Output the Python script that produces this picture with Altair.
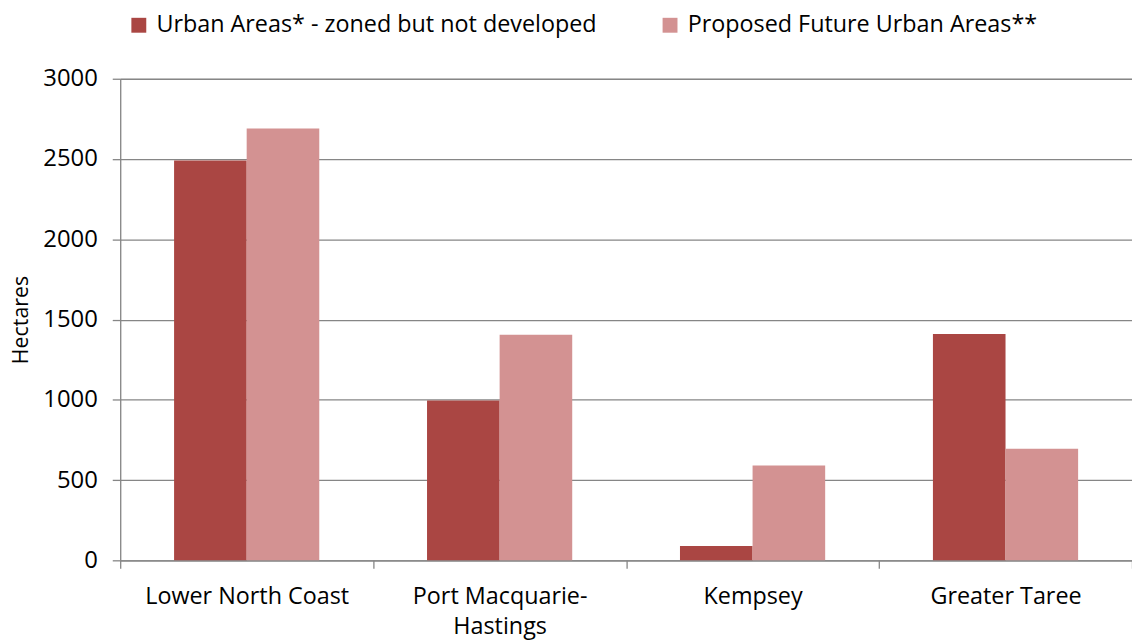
import altair as alt
import pandas as pd

categories = ["Lower North Coast", "Port Macquarie-Hastings", "Kempsey", "Greater Taree"]
series = ["Urban Areas* - zoned but not developed", "Proposed Future Urban Areas**"]
zoned = [2490, 995, 90, 1410]
proposed = [2690, 1405, 590, 695]
colors = ["#AA4643", "#D39292"]
y_ticks = [0, 500, 1000, 1500, 2000, 2500, 3000]

rows = []
for c, a, b in zip(categories, zoned, proposed):
    rows.append({"region": c, "series": series[0], "value": a})
    rows.append({"region": c, "series": series[1], "value": b})
df = pd.DataFrame(rows)

W, H = 1019, 485
p_inner = 0.426
step = W / 4
gap = p_inner * step
bw = step - gap
FONT = "Open Sans"
FS = 23.5

chart = alt.Chart(df).mark_bar().encode(
    x=alt.X("region:N", sort=categories,
            scale=alt.Scale(paddingInner=p_inner, paddingOuter=p_inner / 2),
            axis=alt.Axis(title=None, labelAngle=0, labelFontSize=FS, labelFont=FONT,
                          labelColor="#000000", domainColor="#868686", domainWidth=1.3,
                          tickColor="#868686", tickWidth=1.3, tickSize=8,
                          bandPosition=1 + gap / bw, tickExtra=True,
                          tickOffset=-gap / 2, labelOffset=gap / 2,
                          labelPadding=16, labelLineHeight=31, labelBaseline="top",
                          labelLimit=400,
                          labelExpr="indexof(datum.label, '-') > 0 ? [slice(datum.label, 0, indexof(datum.label, '-') + 1), slice(datum.label, indexof(datum.label, '-') + 1)] : datum.label")),
    xOffset=alt.XOffset("series:N", sort=series, scale=alt.Scale(paddingInner=0, paddingOuter=0)),
    y=alt.Y("value:Q", scale=alt.Scale(domain=[0, 3000], nice=False),
            axis=alt.Axis(title="Hectares", values=y_ticks, format="d",
                          titleFontSize=21.5, titleFont=FONT,
                          titleFontWeight="normal", titleColor="#000000", titlePadding=10,
                          labelFontSize=24, labelFont=FONT, labelColor="#000000",
                          labelPadding=15, tickSize=8, tickColor="#868686", tickWidth=1.3,
                          domainColor="#868686", domainWidth=1.3,
                          grid=True, gridColor="#868686", gridWidth=1.3)),
    color=alt.Color("series:N", sort=series,
                    scale=alt.Scale(domain=series, range=colors),
                    legend=alt.Legend(title=None, orient="none", direction="horizontal",
                                      columns=2, legendX=7, legendY=-66,
                                      symbolType="square", symbolSize=225,
                                      symbolStrokeWidth=0, labelFontSize=FS, labelFont=FONT,
                                      labelColor="#000000", columnPadding=62,
                                      labelOffset=6, labelLimit=700)),
).properties(
    width=W, height=H,
    autosize=alt.AutoSizeParams(type="none"),
    padding={"left": 113, "top": 69, "right": 0, "bottom": 80},
).configure_view(stroke=None).configure(background="#ffffff")

chart.save("out.html", embed_options={"renderer": "svg", "actions": False})
